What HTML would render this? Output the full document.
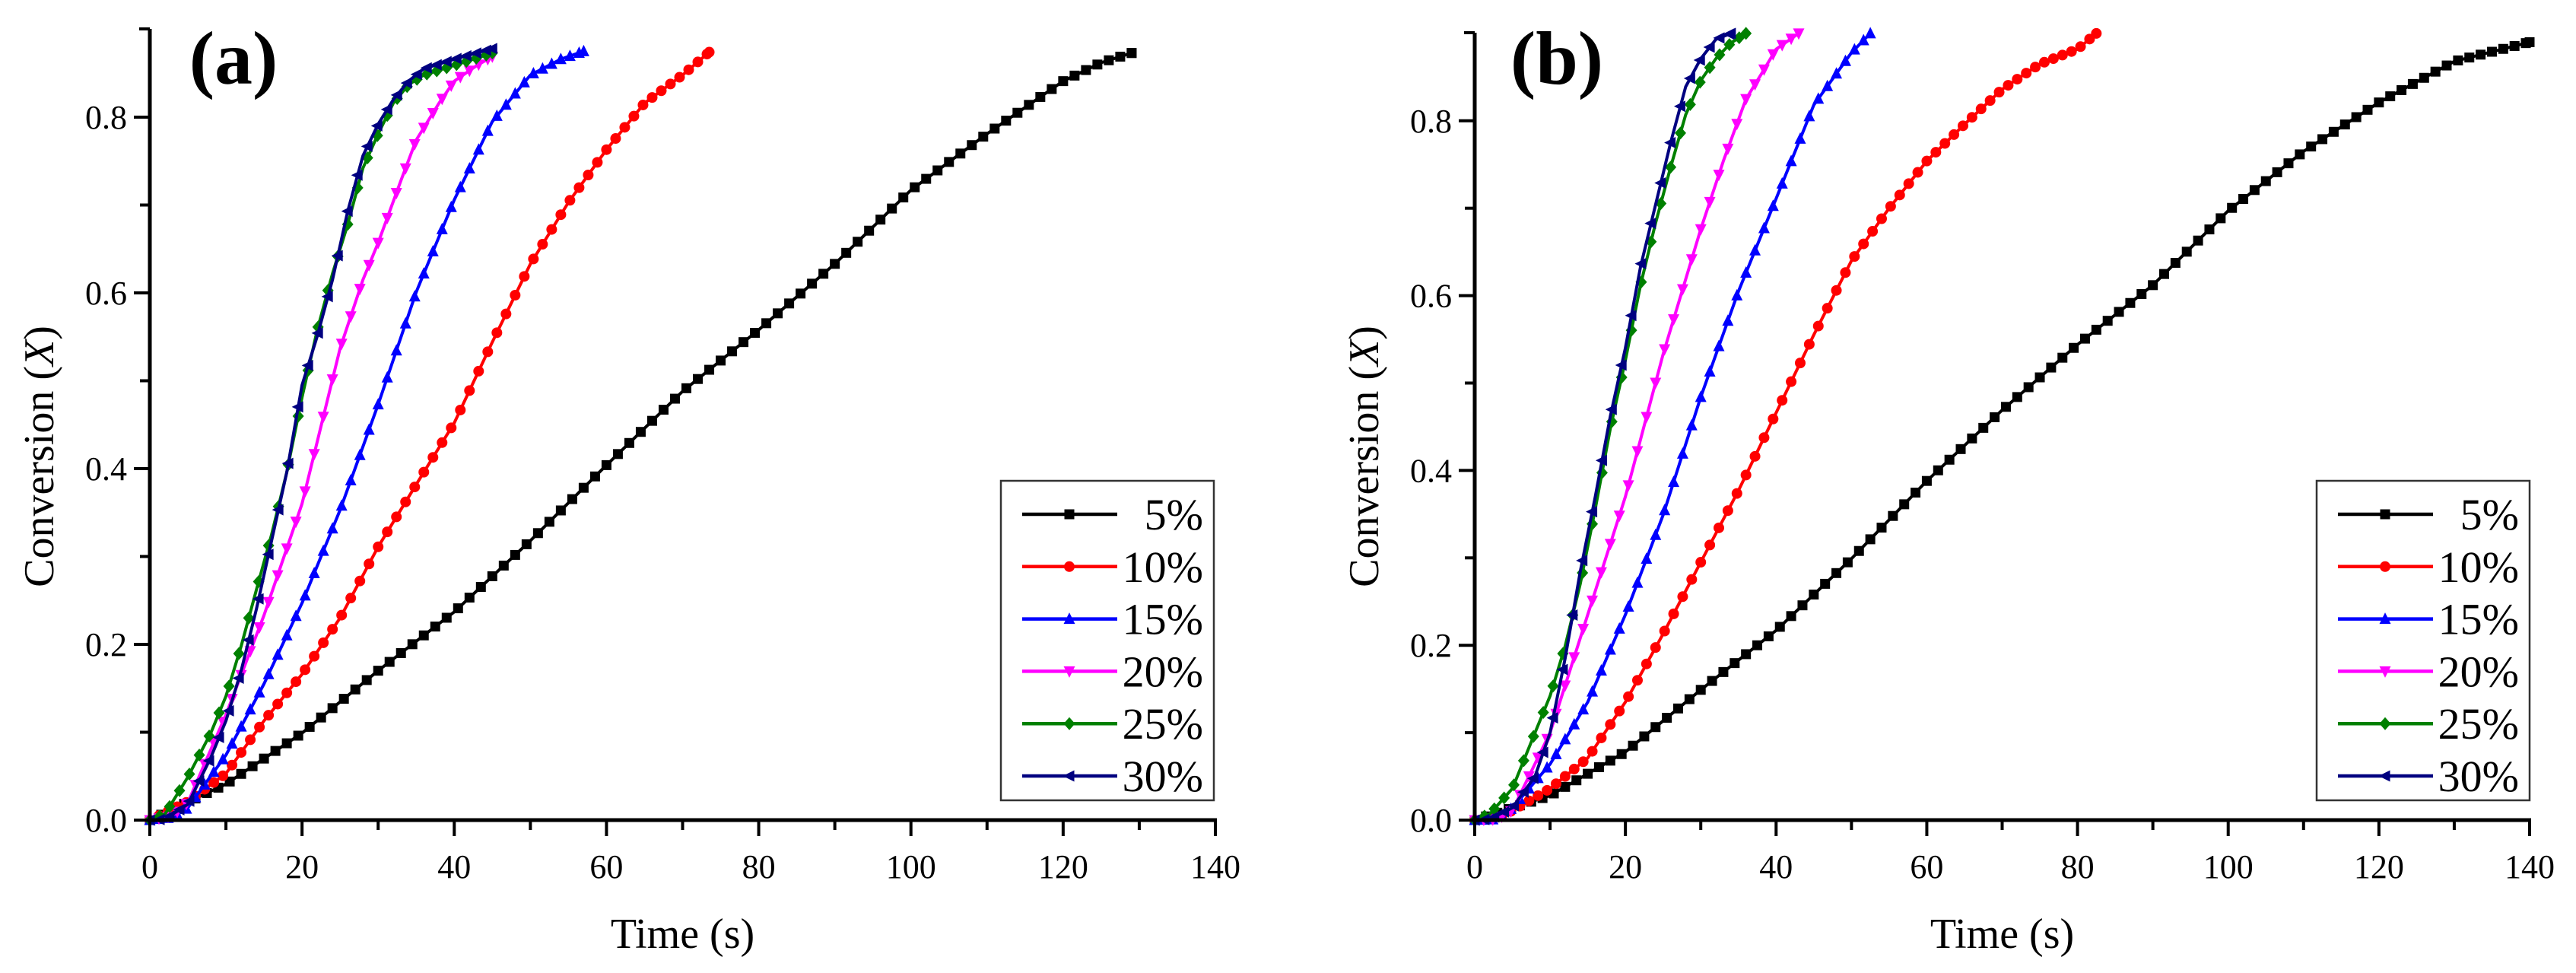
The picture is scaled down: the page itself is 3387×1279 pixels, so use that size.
<!DOCTYPE html>
<html><head><meta charset="utf-8">
<style>
html,body{margin:0;padding:0;background:#fff;}
svg{display:block;}
text{font-family:"Liberation Serif",serif;fill:#000;}
</style></head>
<body>
<svg id="chart" width="3387" height="1279" viewBox="0 0 3387 1279" xmlns="http://www.w3.org/2000/svg"></svg>
<script>
// ---- data ----
const seriesLabels = ["5%","10%","15%","20%","25%","30%"];
const seriesColors = ["#000000","#ff0000","#0000ff","#ff00ff","#008000","#000080"];
const xTicks = [0,20,40,60,80,100,120,140];
const yTicks = [0.0,0.2,0.4,0.6,0.8];
const yTickLabels = ["0.0","0.2","0.4","0.6","0.8"];

// panel (a)
const aT5  = [0,10,20,30,40,50,60,70,80,90,100,110,120,125,129];
const aX5  = [0,0.041,0.099,0.17,0.237,0.318,0.404,0.488,0.558,0.633,0.717,0.781,0.841,0.862,0.873];
const aT10 = [0,5,10,15,20,25,30,35,40,45,50,55,60,65,70,73.5];
const aX10 = [0,0.021,0.053,0.113,0.166,0.230,0.311,0.382,0.452,0.544,0.633,0.703,0.763,0.816,0.848,0.874];
const aT15 = [0,3,5,10,15,20,25,30,35,40,45,50,54,57];
const aX15 = [0,0.003,0.014,0.074,0.155,0.247,0.353,0.473,0.601,0.706,0.795,0.848,0.866,0.875];
const aT20 = [0,3,5,10,15,20,25,28,30,33,35,38,40,43,45];
const aX20 = [0,0.005,0.02,0.12,0.233,0.36,0.537,0.615,0.657,0.728,0.774,0.816,0.841,0.859,0.869];
const aT25 = [0,2,5,8,10,12,14,16,18,20,22,24,26,28,30,32,34,36,40,45];
const aX25 = [0,0.007,0.049,0.099,0.141,0.198,0.262,0.325,0.396,0.481,0.558,0.622,0.678,0.742,0.781,0.816,0.837,0.848,0.859,0.873];
const aT30 = [0,2,5,8,10,12,14,16,18,20,22,24,26,28,30,32,34,36,40,45];
const aX30 = [0,0.001,0.018,0.071,0.113,0.17,0.24,0.318,0.396,0.495,0.551,0.615,0.693,0.756,0.792,0.82,0.841,0.855,0.866,0.878];

// panel (b)
const bT5  = [0,10,20,30,40,50,60,70,80,90,100,110,120,130,140];
const bX5  = [0,0.028,0.078,0.149,0.217,0.299,0.388,0.469,0.544,0.612,0.697,0.765,0.821,0.868,0.890];
const bT10 = [0,3,5,10,15,20,25,30,35,40,45,50,55,60,65,70,75,80,82.5];
const bX10 = [0,0.002,0.011,0.036,0.071,0.135,0.213,0.295,0.377,0.466,0.555,0.640,0.700,0.754,0.796,0.836,0.865,0.882,0.90];
const bT15 = [0,3,5,10,15,20,25,30,35,40,45,50,52.5];
const bX15 = [0,0.001,0.014,0.064,0.135,0.235,0.349,0.484,0.605,0.711,0.818,0.878,0.90];
const bT20 = [0,3,5,10,15,20,25,30,33,36,38,40,43];
const bX20 = [0,0.001,0.011,0.10,0.235,0.37,0.533,0.676,0.754,0.825,0.853,0.882,0.90];
const bT25 = [0,2,5,8,10,12,14,16,18,20,22,24,26,28,30,32,34,36];
const bX25 = [0,0.007,0.036,0.10,0.142,0.199,0.27,0.356,0.448,0.526,0.612,0.683,0.747,0.807,0.846,0.871,0.889,0.90];
const bT30 = [0,2,5,8,10,12,14,16,18,20,22,24,26,28,30,32,34];
const bX30 = [0,0.001,0.014,0.05,0.10,0.185,0.284,0.37,0.462,0.54,0.633,0.704,0.775,0.839,0.871,0.893,0.90];

const panels = [
  {id:"a", label:"(a)", x0:197, x1:1598, y0:1078, yPerUnit:1155, top:38, labelX:307, yTitleX:52,
   legend:{x:1316,y:632,w:280,h:420},
   T:[aT5,aT10,aT15,aT20,aT25,aT30], X:[aX5,aX10,aX15,aX20,aX25,aX30]},
  {id:"b", label:"(b)", x0:1939, x1:3326, y0:1078, yPerUnit:1149, top:43, labelX:2047, yTitleX:1794,
   legend:{x:3046,y:632,w:280,h:420},
   T:[bT5,bT10,bT15,bT20,bT25,bT30], X:[bX5,bX10,bX15,bX20,bX25,bX30]}
];
const markerStep = [1.5,1.2,1.2,1.2,1.3,1.3];

const NS="http://www.w3.org/2000/svg";
const svg=document.getElementById("chart");
function mk(tag,attrs,parent){const e=document.createElementNS(NS,tag);for(const k in attrs)e.setAttribute(k,attrs[k]);(parent||svg).appendChild(e);return e;}

function marker(g,shape,x,y,color){
  const s=6.5;let e;
  if(shape===0){e=mk("rect",{x:x-s,y:y-s,width:2*s,height:2*s,fill:color},g);}
  else if(shape===1){e=mk("circle",{cx:x,cy:y,r:s+0.5,fill:color},g);}
  else if(shape===2){e=mk("polygon",{points:`${x},${y-s-2} ${x-s-1},${y+s} ${x+s+1},${y+s}`,fill:color},g);}
  else if(shape===3){e=mk("polygon",{points:`${x},${y+s+2} ${x-s-1},${y-s} ${x+s+1},${y-s}`,fill:color},g);}
  else if(shape===4){e=mk("polygon",{points:`${x},${y-s-2} ${x+s+1},${y} ${x},${y+s+2} ${x-s-1},${y}`,fill:color},g);}
  else {e=mk("polygon",{points:`${x-s-2},${y} ${x+s},${y-s-1} ${x+s},${y+s+1}`,fill:color},g);}
  
  
  return e;
}
function valAt(T,X,t){
  for(let k=1;k<T.length;k++){if(t<=T[k]){const f=(t-T[k-1])/(T[k]-T[k-1]);return X[k-1]+f*(X[k]-X[k-1]);}}
  return X[X.length-1];
}

panels.forEach(p=>{
  const xs=v=>p.x0+(v/140)*(p.x1-p.x0);
  const ys=v=>p.y0-v*p.yPerUnit;
  const g=mk("g",{});
  
  

  for(let i=0;i<6;i++){
    const sg=mk("g",{},g);
    
    
    const T=p.T[i],X=p.X[i];
    let d="";
    for(let k=0;k<T.length;k++){d+=(k?"L":"M")+xs(T[k]).toFixed(1)+","+ys(X[k]).toFixed(1);}
    const path=mk("path",{d:d,fill:"none",stroke:seriesColors[i],"stroke-width":4,"stroke-linejoin":"round"},sg);
    
    
    const tEnd=T[T.length-1];
    for(let t=0;t<=tEnd+1e-6;t+=markerStep[i]){marker(sg,i,xs(t),ys(valAt(T,X,t)),seriesColors[i]);}
    marker(sg,i,xs(tEnd),ys(X[X.length-1]),seriesColors[i]);
  }

  const ax=mk("g",{},g);
  
  
  const xl=mk("line",{x1:p.x0-2,y1:p.y0,x2:p.x1+2,y2:p.y0,stroke:"#000","stroke-width":5},ax);
  
  
  const yl=mk("line",{x1:p.x0,y1:p.top,x2:p.x0,y2:p.y0+2,stroke:"#000","stroke-width":5},ax);
  
  
  mk("line",{x1:p.x0-14,y1:p.top,x2:p.x0,y2:p.top,stroke:"#000","stroke-width":4},ax);
  for(let v=0;v<=140;v+=10){
    const major=v%20===0;
    mk("line",{x1:xs(v),y1:p.y0,x2:xs(v),y2:p.y0+(major?21:13),stroke:"#000","stroke-width":4},ax);
  }
  xTicks.forEach(v=>{
    const t=mk("text",{x:xs(v),y:p.y0+76,"font-size":44,"text-anchor":"middle"},ax);
    t.textContent=v;
    
    
  });
  for(let k=0;k<=8;k++){
    const v=k*0.1;const major=k%2===0;
    mk("line",{x1:p.x0,y1:ys(v),x2:p.x0-(major?21:13),y2:ys(v),stroke:"#000","stroke-width":4},ax);
  }
  yTicks.forEach((v,k)=>{
    const t=mk("text",{x:p.x0-30,y:ys(v)+15,"font-size":44,"text-anchor":"end"},ax);
    t.textContent=yTickLabels[k];
    
    
  });
  const xt=mk("text",{x:(p.x0+p.x1)/2,y:1246,"font-size":56,"text-anchor":"middle"},ax);
  xt.textContent="Time (s)";
  
  
  const yt=mk("text",{x:0,y:0,"font-size":56,"text-anchor":"middle",transform:`translate(${p.yTitleX+18},600) rotate(-90)`},ax);
  yt.innerHTML='Conversion (<tspan font-style="italic">X</tspan>)';
  
  
  const pl=mk("text",{x:p.labelX,y:110,"font-size":100,"font-weight":"bold","text-anchor":"middle"},ax);
  pl.textContent=p.label;
  
  

  const lg=mk("g",{},g);
  
  
  mk("rect",{x:p.legend.x,y:p.legend.y,width:p.legend.w,height:p.legend.h,fill:"#fff",stroke:"#333","stroke-width":2.5},lg);
  for(let i=0;i<6;i++){
    const e=mk("g",{},lg);
    
    
    const yy=p.legend.y+44+i*68.8;
    const lx=p.legend.x+28;
    mk("line",{x1:lx,y1:yy,x2:lx+125,y2:yy,stroke:seriesColors[i],"stroke-width":4.5},e);
    marker(e,i,lx+62,yy,seriesColors[i]);
    const t=mk("text",{x:p.legend.x+p.legend.w-14,y:yy+20,"font-size":58,"text-anchor":"end"},e);
    t.textContent=seriesLabels[i];
    
    
  }
});
</script>
</body></html>
